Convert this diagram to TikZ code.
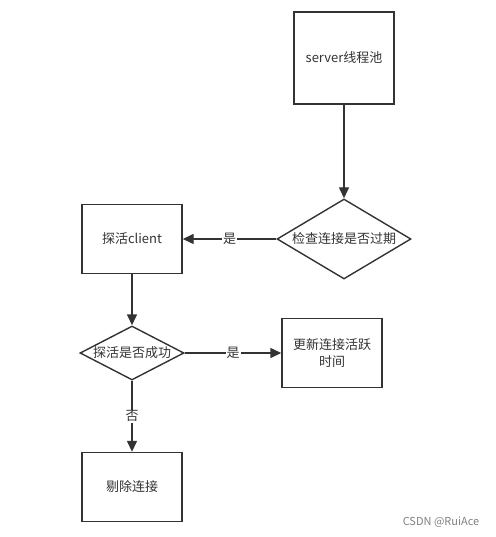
\documentclass[tikz,border=0pt]{standalone}
\usepackage{fontspec}
\setmainfont{Noto Sans CJK SC}
\usetikzlibrary{shapes, shapes.geometric, arrows.meta}
\definecolor{linegray}{HTML}{333333}
\tikzset{
  box/.style = {draw = linegray, line width = 1.4pt, minimum width = 100pt, minimum height = 69pt,
                text width = 90pt, align = center, inner sep = 0pt},
  check/.style = {draw = linegray, line width = 1.4pt, diamond, inner sep = 0pt},
  flow/.style = {draw = linegray, line width = 1.4pt, -{Triangle[length = 11pt, width = 10pt]}},
  yes/.style = {fill = white, inner sep = 1pt, text = linegray}
}
\begin{document}
\begin{tikzpicture}[x = 1pt, y = -1pt, text = linegray, font = \fontsize{13}{17}\selectfont]
    \useasboundingbox (0, 0) rectangle (495, 537);
    \node [box, minimum height = 92pt] (pool) at (344, 58) {server线程池};
    \node [check, minimum width = 134pt, minimum height = 80pt] (expired) at (344, 239) {\makebox[0pt]{检查连接是否过期}};
    \node [box] (probe) at (132, 239) {探活client};
    \node [check, minimum width = 104pt, minimum height = 54pt] (alive) at (132, 353) {\makebox[0pt]{探活是否成功}};
    \node [box] (refresh) at (332, 353) {更新连接活跃\\时间};
    \node [box] (drop) at (132, 487) {剔除连接};
    \draw [flow] (pool) -- (expired);
    \draw [flow] (expired) -- node [yes] {是} (probe);
    \draw [flow] (probe) -- (alive);
    \draw [flow] (alive) -- node [yes] {是} (refresh);
    \draw [flow] (alive) -- node [yes] {否} (drop);
    \node [text = gray, font = \fontsize{11}{13}\selectfont] (mark) at (441, 522) {CSDN @RuiAce};
\end{tikzpicture}
\end{document}
